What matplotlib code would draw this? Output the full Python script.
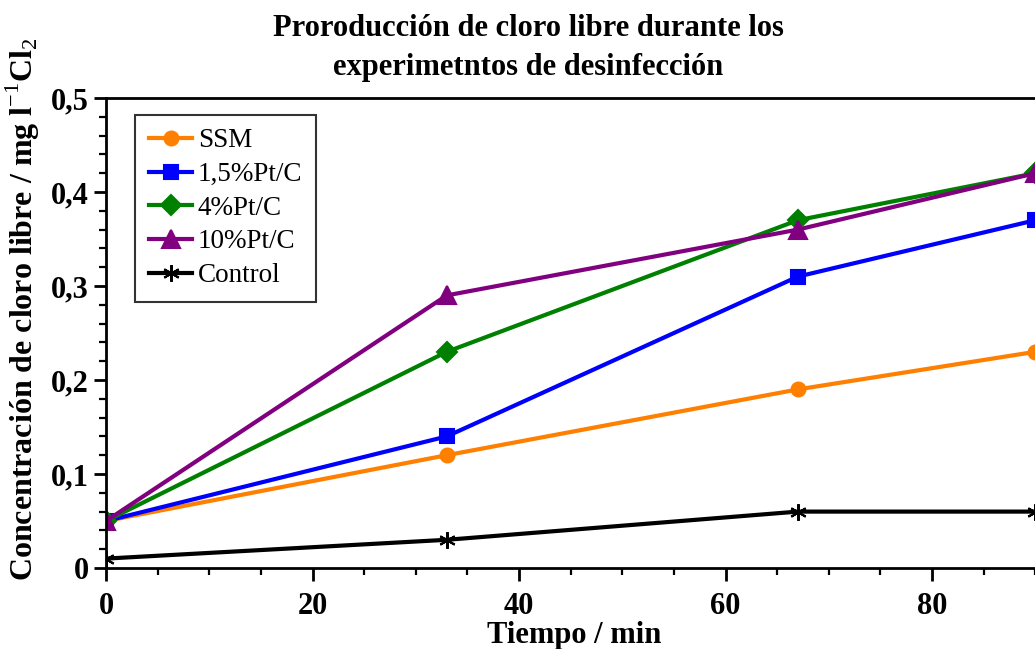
import matplotlib
matplotlib.use("Agg")
import matplotlib.pyplot as plt
from matplotlib.ticker import MultipleLocator, FuncFormatter

plt.rcParams['font.family'] = ['Liberation Serif', 'DejaVu Serif']
plt.rcParams['mathtext.fontset'] = 'custom'
plt.rcParams['mathtext.rm'] = 'Liberation Serif'
plt.rcParams['mathtext.bf'] = 'Liberation Serif:bold'

# data
tiempo = [0, 33, 67, 90]
ssm = [0.05, 0.12, 0.19, 0.23]
pt_15 = [0.05, 0.14, 0.31, 0.37]
pt_4 = [0.05, 0.23, 0.37, 0.42]
pt_10 = [0.05, 0.29, 0.36, 0.42]
control = [0.01, 0.03, 0.06, 0.06]

series = [
    ("SSM", ssm, "#FF8000", "o", 10),
    ("1,5%Pt/C", pt_15, "#0000FF", "s", 10),
    ("4%Pt/C", pt_4, "#008000", "D", 10),
    ("10%Pt/C", pt_10, "#800080", "^", 13),
    ("Control", control, "black", (6, 2, 0), 12),
]

fig = plt.figure(figsize=(10.35, 6.49), dpi=100)
# plot area runs past the right edge of the picture, as in the reference
ax = fig.add_axes([106 / 1035, 81 / 649, 981 / 1035, 470 / 649])

for name, vals, col, mk, ms in series:
    ax.plot(tiempo, vals, color=col, marker=mk, markersize=ms, linewidth=3,
            markeredgewidth=1.5, label=name)

ax.set_xlim(0, 95)
ax.set_ylim(0, 0.5)
ax.xaxis.set_major_locator(MultipleLocator(20))
ax.xaxis.set_minor_locator(MultipleLocator(5))
ax.yaxis.set_major_locator(MultipleLocator(0.1))
ax.yaxis.set_minor_locator(MultipleLocator(0.02))


def coma(v, pos):
    if abs(v) < 1e-9:
        return "0"
    return ("%.1f" % v).replace(".", ",")


ax.yaxis.set_major_formatter(FuncFormatter(coma))
ax.tick_params(which='major', direction='out', length=9, width=2, labelsize=22)
ax.tick_params(axis='x', which='major', pad=8)
ax.tick_params(which='minor', direction='out', length=5, width=1.6)
for lab in ax.get_xticklabels() + ax.get_yticklabels():
    lab.set_fontweight('bold')
for sp in ax.spines.values():
    sp.set_linewidth(2)

ax.set_ylabel("Concentración de cloro libre / mg l$^{-1}$Cl$_2$",
              fontsize=23, fontweight='bold')
ax.yaxis.set_label_coords(-0.065, 0.55)

fig.text(574 / 1035, 1 - 635 / 649, "Tiempo / min", ha='center', va='center',
         fontsize=22, fontweight='bold')
fig.text(528 / 1035, 1 - 48 / 649,
         "Proroducción de cloro libre durante los\nexperimetntos de desinfección",
         ha='center', va='center', fontsize=22, fontweight='bold', linespacing=1.45)

leg = ax.legend(loc='upper left', bbox_to_anchor=(0.03, 0.964), borderaxespad=0,
                fontsize=19.5, frameon=True, fancybox=False, edgecolor='black',
                handlelength=1.6, handletextpad=0.2, borderpad=0.5,
                labelspacing=0.32)
leg.get_frame().set_linewidth(1.5)

fig.savefig("out.png", dpi=100)
